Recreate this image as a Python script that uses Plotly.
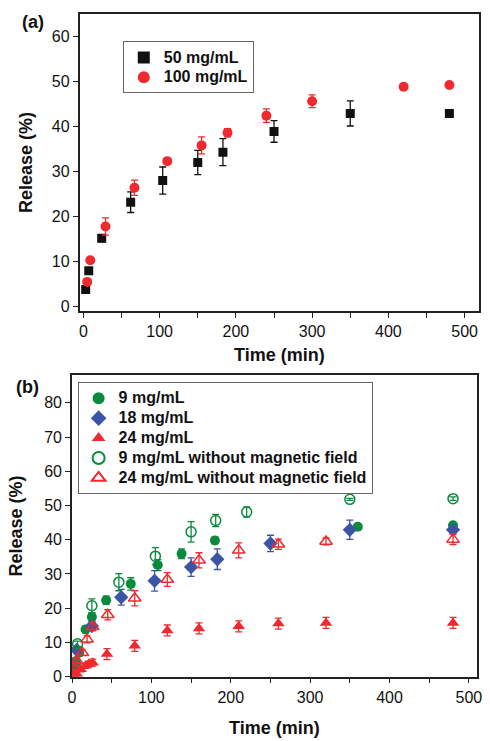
import plotly.graph_objects as go

# ---------- Panel (a) data ----------
a50_t = [3, 7, 24, 62, 104, 150, 183, 250, 350, 480]
a50_r = [3.8, 8.0, 15.2, 23.2, 28.0, 32.0, 34.3, 38.9, 42.9, 42.9]
a50_e = [0.4, 0.5, 0.8, 2.3, 3.0, 2.7, 3.0, 2.4, 2.8, 0.5]

a100_t = [5, 9, 29, 67, 110, 155, 189, 240, 300, 420, 480]
a100_r = [5.5, 10.3, 17.8, 26.4, 32.3, 35.8, 38.6, 42.4, 45.6, 48.8, 49.2]
a100_e = [0.4, 0.4, 1.9, 1.7, 0.5, 1.9, 0.9, 1.5, 1.4, 0.3, 0.3]

# ---------- Panel (b) data ----------
b9_t = [2, 5, 9, 17, 25, 43, 74, 108, 138, 180, 360, 480]
b9_r = [1.8, 4.5, 7.0, 13.8, 17.4, 22.3, 27.1, 32.6, 35.9, 39.8, 43.8, 44.2]
b9_e = [0.5, 0.6, 0.8, 1.0, 1.2, 1.2, 1.8, 1.6, 1.4, 1.0, 0.6, 0.8]

b18_t = [3, 6, 25, 62, 104, 150, 183, 250, 350, 480]
b18_r = [3.8, 7.8, 14.8, 23.2, 28.0, 32.0, 34.3, 38.9, 42.9, 42.9]
b18_e = [0.4, 0.8, 1.2, 2.3, 3.0, 2.7, 3.0, 2.4, 2.8, 0.5]

b24_t = [2, 6, 11, 17, 21, 26, 44, 79, 120, 160, 210, 260, 320, 480]
b24_r = [0.3, 0.8, 2.2, 3.2, 3.7, 4.1, 6.6, 9.0, 13.5, 14.1, 14.7, 15.5, 15.7, 15.7]
b24_e = [0.5, 0.5, 0.8, 0.8, 0.8, 1.0, 1.6, 1.6, 1.6, 1.6, 1.6, 1.6, 1.6, 1.6]

b9n_t = [2, 7, 25, 59, 105, 150, 181, 220, 350, 480]
b9n_r = [4.0, 9.6, 20.7, 27.6, 35.2, 42.3, 45.6, 48.1, 51.8, 52.0]
b9n_e = [0.5, 0.8, 2.0, 2.5, 2.5, 3.0, 1.8, 1.5, 0.3, 0.5]

b24n_t = [2, 6, 13, 19, 26, 45, 79, 120, 160, 210, 260, 320, 480]
b24n_r = [2.7, 4.6, 7.0, 10.9, 14.6, 18.1, 22.9, 28.4, 34.0, 36.9, 38.7, 39.5, 40.1]
b24n_e = [0.5, 0.6, 0.8, 1.0, 1.2, 1.5, 2.2, 2.0, 2.2, 2.2, 1.5, 1.0, 1.5]

BLACK = "#111111"
RED = "#ee2a2e"
GREEN = "#0b8a3e"
BLUE = "#3a55a5"
FONT = "Liberation Sans, Arial, sans-serif"

fig = go.Figure()


def add(x, y, e, name, symbol, color, size, xa, ya, lw=0):
    fig.add_trace(go.Scatter(
        x=x, y=y, mode="markers",
        name='<span style="font-size:16px"><b>' + name + "</b></span>",
        xaxis=xa, yaxis=ya, legend="legend" if xa == "x" else "legend2",
        marker=dict(symbol=symbol, color=color, size=size,
                    line=dict(color=color, width=lw)),
        error_y=dict(type="data", array=e, visible=True, color=color,
                     thickness=1.3, width=3.5),
    ))


add(a50_t, a50_r, a50_e, "50 mg/mL", "square", BLACK, 9, "x", "y")
add(a100_t, a100_r, a100_e, "100 mg/mL", "circle", RED, 10, "x", "y")

add(b9_t, b9_r, b9_e, "9 mg/mL", "circle", GREEN, 10, "x2", "y2")
add(b18_t, b18_r, b18_e, "18 mg/mL", "diamond", BLUE, 11, "x2", "y2")
add(b24_t, b24_r, b24_e, "24 mg/mL", "triangle-up", RED, 11, "x2", "y2")
add(b9n_t, b9n_r, b9n_e, "9 mg/mL without magnetic field", "circle-open", GREEN, 10, "x2", "y2", lw=1.5)
add(b24n_t, b24n_r, b24n_e, "24 mg/mL without magnetic field", "triangle-up-open", RED, 11, "x2", "y2", lw=1.5)

W, H = 490, 741

axis_common = dict(
    showline=True, linecolor="#222222", linewidth=1.6, mirror=True,
    ticks="outside", ticklen=5, tickwidth=1.3, tickcolor="#222222",
    showgrid=False, zeroline=False,
    tickfont=dict(family=FONT, size=16, color="#111111"),
)

fig.update_layout(
    width=W, height=H,
    margin=dict(l=0, r=0, t=0, b=0),
    paper_bgcolor="white", plot_bgcolor="white",
    font=dict(family=FONT, color="#111111"),
    xaxis=dict(domain=[77 / W, 484 / W], anchor="y", range=[-5, 519],
               dtick=100, tick0=0,
               minor=dict(dtick=50, ticks="outside", ticklen=5, tickwidth=1.3, tickcolor="#222222"),
               title=dict(text="<b>Time (min)</b>", font=dict(family=FONT, size=18), standoff=9),
               **axis_common),
    yaxis=dict(domain=[1 - 315 / H, 1 - 14 / H], anchor="x", range=[-1, 65],
               dtick=10, tick0=0,
               title=dict(text="<b>Release (%)</b>", font=dict(family=FONT, size=18), standoff=14),
               **axis_common),
    xaxis2=dict(domain=[69.3 / W, 481.7 / W], anchor="y2", range=[0, 510],
                dtick=100, tick0=0,
                minor=dict(dtick=50, ticks="outside", ticklen=5, tickwidth=1.3, tickcolor="#222222"),
                title=dict(text="<b>Time (min)</b>", font=dict(family=FONT, size=18), standoff=17),
                **axis_common),
    yaxis2=dict(domain=[1 - 685 / H, 1 - 380 / H], anchor="x2", range=[0, 88],
                dtick=10, tick0=0,
                title=dict(text="<b>Release (%)</b>", font=dict(family=FONT, size=18), standoff=17),
                **axis_common),
    legend=dict(x=121 / W, y=1 - 42 / H, xanchor="left", yanchor="top",
                bordercolor="#666666", borderwidth=1, bgcolor="white",
                font=dict(family=FONT, size=13, color="#111111"),
                itemsizing="constant", tracegroupgap=0),
    legend2=dict(x=75 / W, y=1 - 387 / H, xanchor="left", yanchor="top",
                 bordercolor="#666666", borderwidth=1, bgcolor="white",
                 font=dict(family=FONT, size=13, color="#111111"),
                 itemsizing="constant", tracegroupgap=0),
    annotations=[
        dict(text="<b>(a)</b>", x=16 / W, y=1 - 22 / H, xref="paper", yref="paper",
             xanchor="left", yanchor="middle", showarrow=False,
             font=dict(family=FONT, size=18, color="#111111")),
        dict(text="<b>(b)</b>", x=10 / W, y=1 - 392 / H, xref="paper", yref="paper",
             xanchor="left", yanchor="middle", showarrow=False,
             font=dict(family=FONT, size=18, color="#111111")),
    ],
)

fig.write_html("out.html")
